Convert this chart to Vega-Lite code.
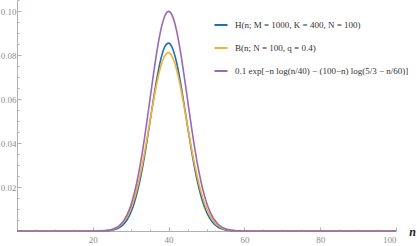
{
  "$schema": "https://vega.github.io/schema/vega-lite/v6.json",
  "width": 379,
  "height": 231,
  "autosize": {"type": "none"},
  "padding": {"left": 17, "top": 0, "right": 21, "bottom": 15},
  "background": "white",
  "config": {"view": {"stroke": null}},
  "data": {"values": [
    {"n": 0, "H": 0, "B": 0, "F": 0},
    {"n": 10, "H": 0, "B": 0, "F": 0},
    {"n": 20, "H": 0.000004, "B": 0.000011, "F": 0.0000106},
    {"n": 21, "H": 0.000012, "B": 0.0000268, "F": 0.0000274},
    {"n": 22, "H": 0.0000317, "B": 0.0000641, "F": 0.0000668},
    {"n": 23, "H": 0.0000778, "B": 0.000145, "F": 0.000153},
    {"n": 24, "H": 0.00018, "B": 0.00031, "F": 0.000333},
    {"n": 25, "H": 0.000391, "B": 0.000627, "F": 0.000684},
    {"n": 26, "H": 0.000804, "B": 0.001207, "F": 0.001331},
    {"n": 27, "H": 0.001564, "B": 0.002205, "F": 0.002462},
    {"n": 28, "H": 0.002881, "B": 0.003832, "F": 0.004328},
    {"n": 29, "H": 0.00503, "B": 0.006343, "F": 0.007236},
    {"n": 30, "H": 0.008333, "B": 0.010008, "F": 0.011531},
    {"n": 31, "H": 0.013112, "B": 0.015066, "F": 0.01752},
    {"n": 32, "H": 0.01961, "B": 0.021657, "F": 0.0254},
    {"n": 33, "H": 0.027899, "B": 0.029751, "F": 0.035167},
    {"n": 34, "H": 0.037784, "B": 0.039084, "F": 0.046541},
    {"n": 35, "H": 0.048743, "B": 0.049134, "F": 0.058908},
    {"n": 36, "H": 0.059931, "B": 0.059142, "F": 0.071354},
    {"n": 37, "H": 0.070268, "B": 0.0682, "F": 0.082762},
    {"n": 38, "H": 0.078603, "B": 0.075379, "F": 0.091959},
    {"n": 39, "H": 0.083924, "B": 0.079888, "F": 0.097932},
    {"n": 40, "H": 0.08556, "B": 0.081219, "F": 0.1},
    {"n": 41, "H": 0.083319, "B": 0.079238, "F": 0.097944},
    {"n": 42, "H": 0.077525, "B": 0.074207, "F": 0.092045},
    {"n": 43, "H": 0.068942, "B": 0.066728, "F": 0.083022},
    {"n": 44, "H": 0.058611, "B": 0.057629, "F": 0.071887},
    {"n": 45, "H": 0.047644, "B": 0.047811, "F": 0.059772},
    {"n": 46, "H": 0.037038, "B": 0.03811, "F": 0.047731},
    {"n": 47, "H": 0.02754, "B": 0.029191, "F": 0.036611},
    {"n": 48, "H": 0.019588, "B": 0.021488, "F": 0.026979},
    {"n": 49, "H": 0.013328, "B": 0.015202, "F": 0.019098},
    {"n": 50, "H": 0.008676, "B": 0.010337, "F": 0.012988},
    {"n": 51, "H": 0.005403, "B": 0.006756, "F": 0.008489},
    {"n": 52, "H": 0.003219, "B": 0.004244, "F": 0.005329},
    {"n": 53, "H": 0.001835, "B": 0.002563, "F": 0.003214},
    {"n": 54, "H": 0.001, "B": 0.001487, "F": 0.001862},
    {"n": 55, "H": 0.000521, "B": 0.000829, "F": 0.001037},
    {"n": 56, "H": 0.00026, "B": 0.000444, "F": 0.000554},
    {"n": 57, "H": 0.000124, "B": 0.000229, "F": 0.000285},
    {"n": 58, "H": 0.0000565, "B": 0.000113, "F": 0.00014},
    {"n": 59, "H": 0.0000246, "B": 0.0000536, "F": 0.0000663},
    {"n": 60, "H": 0.00001, "B": 0.0000244, "F": 0.0000301},
    {"n": 70, "H": 0, "B": 0, "F": 0},
    {"n": 100, "H": 0, "B": 0, "F": 0}
  ]},
  "transform": [{"fold": ["H", "B", "F"], "as": ["series", "p"]}],
  "mark": {"type": "line", "interpolate": "monotone", "strokeWidth": 1.6},
  "encoding": {
    "x": {
      "field": "n", "type": "quantitative",
      "scale": {"domain": [0, 100], "nice": false, "zero": false},
      "axis": {
        "values": [0,5,10,15,20,25,30,35,40,45,50,55,60,65,70,75,80,85,90,95,100],
        "labelExpr": "datum.value % 20 === 0 && datum.value > 0 ? datum.label : ''",
        "grid": false,
        "domainColor": "#b0b0b0",
        "tickColor": "#b0b0b0",
        "tickSize": {"condition": {"test": "datum.value % 20 === 0", "value": -4}, "value": -2},
        "labelFont": "Liberation Serif, DejaVu Serif, serif",
        "labelFontSize": 9,
        "labelColor": "#8c8c8c",
        "labelPadding": 8.5,
        "title": "n",
        "titleFont": "Liberation Serif, DejaVu Serif, serif",
        "titleFontStyle": "italic",
        "titleFontWeight": "bold",
        "titleFontSize": 12,
        "titleColor": "#222222",
        "titleAngle": 0,
        "titleAlign": "center",
        "titleBaseline": "middle",
        "titleX": 395,
        "titleY": 0
      }
    },
    "y": {
      "field": "p", "type": "quantitative",
      "scale": {"domain": [0, 0.1052], "nice": false},
      "axis": {
        "values": [0,0.005,0.01,0.015,0.02,0.025,0.03,0.035,0.04,0.045,0.05,0.055,0.06,0.065,0.07,0.075,0.08,0.085,0.09,0.095,0.1,0.105],
        "labelExpr": "(round(datum.value*1000) % 20 === 0 && datum.value > 0) ? format(datum.value, '.2f') : ''",
        "grid": false,
        "domainColor": "#b0b0b0",
        "tickColor": "#b0b0b0",
        "tickSize": {"condition": {"test": "round(datum.value*1000) % 20 === 0", "value": -4}, "value": -2},
        "labelFont": "Liberation Serif, DejaVu Serif, serif",
        "labelFontSize": 9,
        "labelColor": "#8c8c8c",
        "labelPadding": 5,
        "title": null
      }
    },
    "color": {
      "field": "series", "type": "nominal",
      "scale": {"domain": ["H", "B", "F"], "range": ["#1f6fae", "#f5b133", "#9b69b0"]},
      "legend": {
        "orient": "none",
        "legendX": 196,
        "legendY": 17,
        "title": null,
        "padding": 0,
        "symbolType": "stroke",
        "symbolSize": 170,
        "symbolStrokeWidth": 2,
        "rowPadding": 10,
        "labelFont": "Liberation Serif, DejaVu Serif, serif",
        "labelFontSize": 9,
        "labelColor": "#333333",
        "labelOffset": 6,
        "labelLimit": 250,
        "labelExpr": "datum.value === 'H' ? 'H(n; M = 1000, K = 400, N = 100)' : datum.value === 'B' ? 'B(n; N = 100, q = 0.4)' : '0.1 exp[−n log(n/40) − (100−n) log(5/3 − n/60)]'"
      }
    }
  }
}
